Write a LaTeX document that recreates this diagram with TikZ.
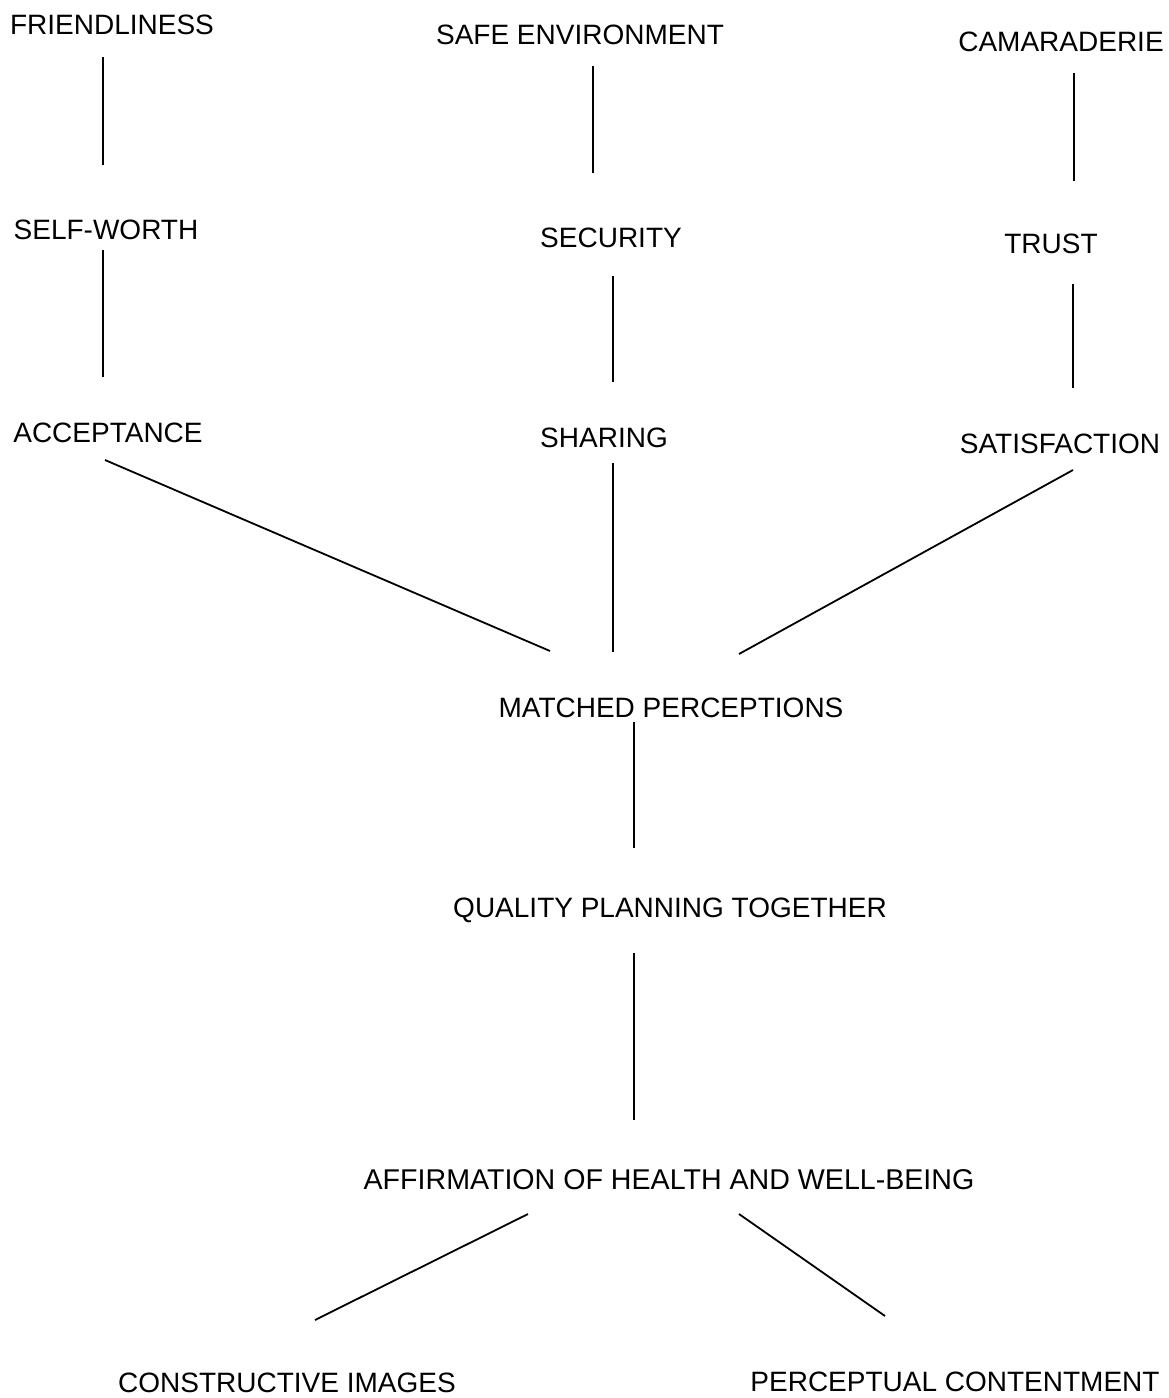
\documentclass[tikz,border=0pt]{standalone}
\usepackage{fontspec}
\setmainfont{Liberation Sans}
\usetikzlibrary{calc}
\tikzset{
    lbl/.style={inner sep=0pt, font=\fontsize{28}{34}\selectfont},
    link/.style={line width=1.8pt}
}

\begin{document}
\begin{tikzpicture}[x=1pt, y=-1pt]
    \useasboundingbox (0,0) rectangle (1168,1398);
    % top row
    \node[lbl] (friend) at (112,25)  {FRIENDLINESS};
    \node[lbl] (safe)   at (580,35)  {SAFE ENVIRONMENT};
    \node[lbl] (camar)  at (1061,42) {CAMARADERIE};
    % second row
    \node[lbl] (worth)  at (106,230)  {SELF-WORTH};
    \node[lbl] (secur)  at (611,238)  {SECURITY};
    \node[lbl] (trust)  at (1051,244) {TRUST};
    % third row
    \node[lbl] (accept) at (108,433)  {ACCEPTANCE};
    \node[lbl] (share)  at (604,438)  {SHARING};
    \node[lbl] (satis)  at (1060,444) {SATISFACTION};
        % middle column
        \node[lbl] (match)  at (671,708)  {MATCHED PERCEPTIONS};
        \node[lbl] (plan)   at (670,910)  {QUALITY PLANNING TOGETHER};
        \node[lbl, font=\fontsize{28.6}{34}\selectfont] (affirm) at (669,1180) {AFFIRMATION OF HEALTH AND WELL-BEING};
            % bottom row
            \node[lbl] (constr) at (287,1383) {CONSTRUCTIVE IMAGES};
            \node[lbl] (percep) at (955,1382) {PERCEPTUAL CONTENTMENT};

    \draw[link] ($(friend)+(-9,32)$) -- ($(worth)+(-3,-65)$);
    \draw[link] ($(safe)+(13,31)$)   -- ($(secur)+(-18,-65)$);
    \draw[link] ($(camar)+(13,31)$)  -- ($(trust)+(23,-63)$);

    \draw[link] ($(worth)+(-3,20)$)  -- ($(accept)+(-5,-56)$);
    \draw[link] ($(secur)+(2,38)$)   -- ($(share)+(9,-56)$);
    \draw[link] ($(trust)+(22,40)$)  -- ($(satis)+(13,-56)$);

    \draw[link] ($(accept)+(-3,27)$) -- ($(match)+(-121,-57)$);
    \draw[link] ($(share)+(9,25)$)   -- ($(match)+(-58,-56)$);
    \draw[link] ($(satis)+(13,26)$)  -- ($(match)+(68,-54)$);

    \draw[link] ($(match)+(-37,14)$) -- ($(plan)+(-36,-62)$);
    \draw[link] ($(plan)+(-36,43)$)  -- ($(affirm)+(-35,-60)$);

    \draw[link] ($(affirm)+(-141,34)$) -- ($(constr)+(28,-63)$);
    \draw[link] ($(affirm)+(70,34)$)   -- ($(percep)+(-70,-66)$);
\end{tikzpicture}
\end{document}
